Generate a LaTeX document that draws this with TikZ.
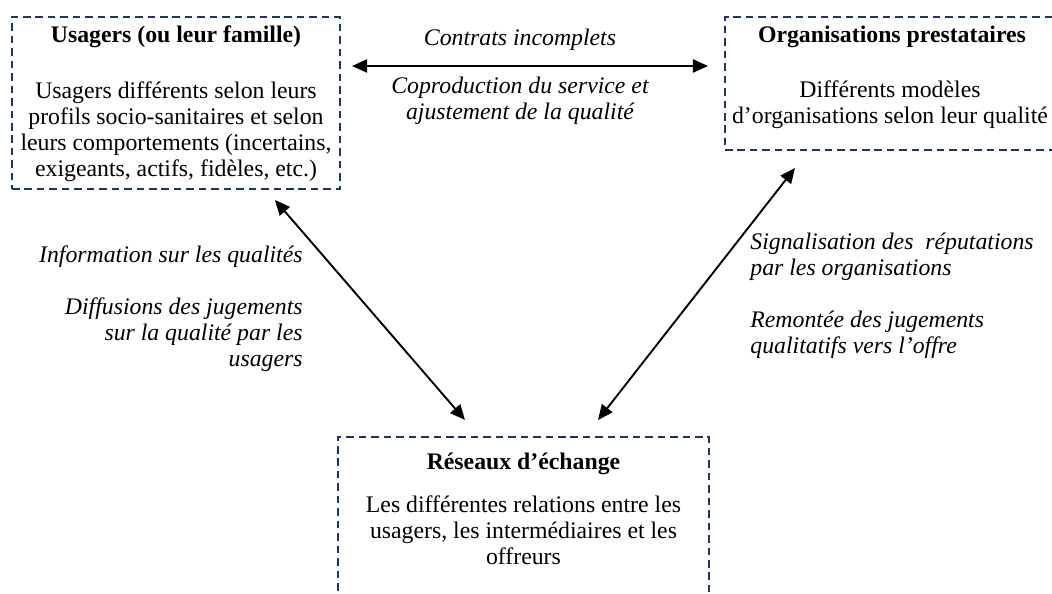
\documentclass[tikz,border=0pt]{standalone}
\usepackage{fontspec}
\setmainfont{Liberation Serif}
\usetikzlibrary{arrows.meta, positioning}
\definecolor{boxblue}{RGB}{31,52,102}
\tikzset{
  fnt/.style={font=\fontsize{12.6pt}{13.8pt}\selectfont},
  box/.style={draw=boxblue, line width=1pt, dash pattern=on 4pt off 2.6pt, inner sep=0pt},
  ttl/.style={font=\fontsize{12.6pt}{13.8pt}\selectfont\bfseries, anchor=base, inner sep=0pt},
  txt/.style={fnt, align=center, anchor=base, inner sep=0pt},
  lab/.style={font=\fontsize{12.6pt}{13.8pt}\selectfont\itshape, inner sep=0pt},
  arr/.style={{Triangle[length=8pt, width=7pt]}-{Triangle[length=8pt, width=7pt]}, line width=1pt}
}
\begin{document}
\begin{tikzpicture}[x=0.53pt, y=-0.53pt]
	\useasboundingbox (0,0) rectangle (1052,594);
	% the three dashed boxes
	\node[box, minimum width=173.8pt, minimum height=91.2pt] (usa) at (176,103) {};
	\node[box, minimum width=180.2pt, minimum height=70.5pt] (org) at (895,83.5) {};
	\node[box, minimum width=196.6pt, minimum height=97pt] (res) at (523.5,528.5) {};
	% box texts (base of a multi-line node = its last line)
	\node[ttl] (usaT) at (176,43) {Usagers (ou leur famille)};
	\node[txt] (usaB) at (176,177) {Usagers différents selon leurs\\profils socio-sanitaires et selon\\leurs comportements (incertains,\\exigeants, actifs, fidèles, etc.)};
	\node[ttl] (orgT) at (892,43) {Organisations prestataires};
	\node[txt] (orgB) at (890,124) {Différents modèles\\d’organisations selon leur qualité};
	\node[ttl] (resT) at (523.5,470) {Réseaux d’échange};
	\node[txt] (resB) at (523.5,565) {Les différentes relations entre les\\usagers, les intermédiaires et les\\offreurs};
	% free ends of the arrows
	\coordinate (tL) at (352,66);
	\coordinate (tR) at (708,66);
	\coordinate (lU) at (275,200);
	\coordinate (lD) at (465,420);
	\coordinate (rD) at (598,420);
	\coordinate (rU) at (795,168);
	\draw[arr] (tL) -- (tR);
	\draw[arr] (lU) -- (lD);
	\draw[arr] (rD) -- (rU);
	% arrow labels
	\node[lab, anchor=base] (conT) at (520,46) {Contrats incomplets};
	\node[lab, align=center, anchor=base] (conB) at (520,120) {Coproduction du service et\\ajustement de la qualité};
	\node[lab, align=right, anchor=base east] (infL) at (303,367) {Information sur les qualités\\[13.8pt]Diffusions des jugements\\sur la qualité par les\\usagers};
	\node[lab, align=left, anchor=base west] (sigR) at (750,354) {Signalisation des~ réputations\\par les organisations\\[13.8pt]Remontée des jugements\\qualitatifs vers l’offre};
\end{tikzpicture}
\end{document}
